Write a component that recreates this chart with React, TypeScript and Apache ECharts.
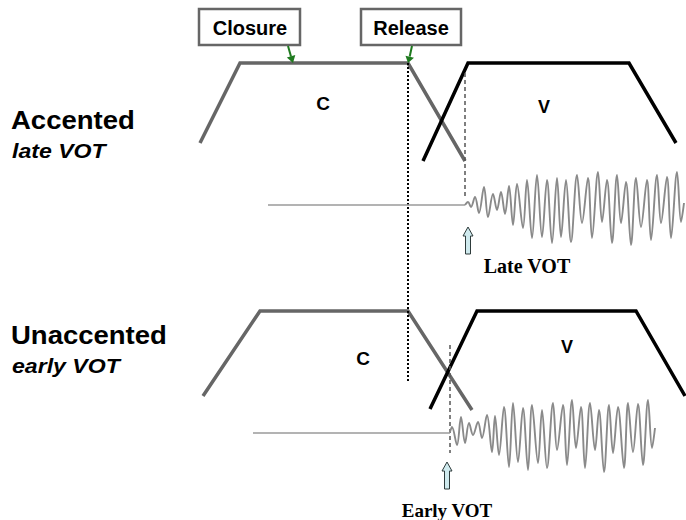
import React, { useEffect, useRef } from "react";
import * as echarts from "echarts";

// Trapezoid outlines (x, y in the diagram's 686x520 space)
const topC = [[200, 143], [240, 63], [408, 63], [465, 161]];
const topV = [[423, 161], [468, 63], [629, 63], [676, 143]];
const botC = [[203, 396], [260, 311], [408, 311], [472, 410]];
const botV = [[430, 409], [477, 311], [636, 311], [685, 396]];

// Marker lines
const releaseLine = [[408, 63], [408, 381]];
const topVotLine = [[465, 73], [465, 197]];
const botVotLine = [[450, 345], [450, 453]];

// Waveform baselines (silence before voicing)
const topBaseline = [[268, 205], [465, 205]];
const botBaseline = [[253, 433], [450, 433]];

// Voicing waveform extrema
const topWave = [
  [465, 205], [468, 202], [471, 207], [475, 197], [479, 213], [484, 187], [488, 217], [493, 194], [497, 210],
  [501, 192], [505, 214], [509, 186], [513, 225], [517, 184], [523, 228], [527, 180],
  [532, 238], [537, 175], [542, 237], [547, 180], [552, 243], [557, 178], [561, 237],
  [566, 180], [571, 242], [577, 175], [582, 223], [588, 178], [592, 238], [598, 172],
  [602, 222], [607, 180], [612, 243], [617, 175], [621, 223], [626, 182], [631, 245],
  [636, 178], [641, 227], [647, 180], [651, 240], [657, 175], [661, 223], [667, 177],
  [671, 238], [677, 172], [681, 222], [684, 203],
];
const botWave = [
  [450, 432], [452, 427], [457, 445], [461, 417], [465, 443], [469, 423], [473, 435],
  [478, 422], [482, 438], [487, 415], [492, 452], [495, 416], [499, 455], [504, 407],
  [509, 467], [513, 403], [518, 462], [523, 408], [528, 470], [532, 405], [538, 463],
  [542, 410], [547, 468], [553, 403], [557, 450], [563, 405], [567, 465], [572, 400],
  [576, 448], [581, 407], [585, 468], [590, 403], [595, 450], [599, 410], [604, 472],
  [609, 405], [613, 453], [618, 407], [624, 468], [628, 403], [633, 452], [638, 404],
  [643, 465], [648, 400], [652, 448], [655, 428],
];

const rowLabels = ["Accented", "Unaccented"];
const rowSubLabels = ["late VOT", "early VOT"];
const boxLabels = ["Closure", "Release"];
const segLabels = ["C", "V"];
const votLabels = ["Late VOT", "Early VOT"];

function lineSeries(data: number[][], color: string, width: number, type: any = "solid", smooth: any = false) {
  return {
    type: "line",
    data,
    symbol: "none",
    smooth,
    silent: true,
    lineStyle: { color, width, type, cap: "butt", join: "miter" },
    z: 2,
  };
}

function blueArrow(x: number, tip: number, bottom: number) {
  const hb = tip + 9;
  return {
    type: "polygon",
    shape: {
      points: [[x, tip], [x + 5, hb], [x + 2.5, hb], [x + 2.5, bottom], [x - 2.5, bottom], [x - 2.5, hb], [x - 5, hb]],
    },
    style: { fill: "#cfeaee", stroke: "#2e3b3b", lineWidth: 1 },
    z: 10,
  };
}

export default function App() {
  const ref = useRef<HTMLDivElement>(null);
  useEffect(() => {
    document.body.style.margin = "0";
    const chart = echarts.init(ref.current!, null, { renderer: "svg" });
    const sans = "'Liberation Sans', Arial, sans-serif";
    const serif = "'Liberation Serif', 'Times New Roman', serif";
    const green = "#1f7a1f";
    chart.setOption({
      animation: false,
      backgroundColor: "#ffffff",
      grid: { left: 0, right: 0, top: 0, bottom: 0 },
      xAxis: { type: "value", min: 0, max: 686, show: false },
      yAxis: { type: "value", min: 0, max: 520, inverse: true, show: false },
      series: [
        lineSeries(topC, "#666666", 3.5),
        lineSeries(topV, "#000000", 3.5),
        lineSeries(botC, "#666666", 3.5),
        lineSeries(botV, "#000000", 3.5),
        lineSeries(releaseLine, "#000000", 2, [2, 2]),
        lineSeries(topVotLine, "#555555", 1.5, [4, 3]),
        lineSeries(botVotLine, "#555555", 1.5, [4, 3]),
        lineSeries(topBaseline, "#9a9a9a", 1.5),
        lineSeries(botBaseline, "#9a9a9a", 1.5),
        lineSeries(topWave, "#8a8a8a", 1.9, "solid", 0.35),
        lineSeries(botWave, "#8a8a8a", 1.9, "solid", 0.35),
      ],
      graphic: [
        // Boxes
        { type: "rect", shape: { x: 199, y: 9, width: 101, height: 36 }, style: { fill: "#fff", stroke: "#666", lineWidth: 2.5 }, z: 10 },
        { type: "rect", shape: { x: 361, y: 9, width: 100, height: 36 }, style: { fill: "#fff", stroke: "#666", lineWidth: 2.5 }, z: 10 },
        { type: "text", x: 250, y: 28, style: { text: boxLabels[0], font: `bold 20px ${sans}`, fill: "#000", align: "center", verticalAlign: "middle" }, z: 11 },
        { type: "text", x: 411, y: 28, style: { text: boxLabels[1], font: `bold 20px ${sans}`, fill: "#000", align: "center", verticalAlign: "middle" }, z: 11 },
        // Green arrows
        { type: "line", shape: { x1: 288, y1: 46, x2: 291, y2: 56.5 }, style: { stroke: green, lineWidth: 2 }, z: 10 },
        { type: "polygon", shape: { points: [[286.8, 57.5], [295.3, 55], [293, 63]] }, style: { fill: green }, z: 10 },
        { type: "line", shape: { x1: 412, y1: 46, x2: 409.7, y2: 56.5 }, style: { stroke: green, lineWidth: 2 }, z: 10 },
        { type: "polygon", shape: { points: [[405.5, 55.7], [414, 57.7], [408, 63]] }, style: { fill: green }, z: 10 },
        // Row labels
        { type: "text", x: 11, y: 120, scaleX: 1.1, style: { text: rowLabels[0], font: `bold 25px ${sans}`, fill: "#000", verticalAlign: "middle" } },
        { type: "text", x: 12, y: 151, scaleX: 1.1, style: { text: rowSubLabels[0], font: `italic bold 21px ${sans}`, fill: "#000", verticalAlign: "middle" } },
        { type: "text", x: 11, y: 335, scaleX: 1.1, style: { text: rowLabels[1], font: `bold 25px ${sans}`, fill: "#000", verticalAlign: "middle" } },
        { type: "text", x: 12, y: 366, scaleX: 1.1, style: { text: rowSubLabels[1], font: `italic bold 21px ${sans}`, fill: "#000", verticalAlign: "middle" } },
        // Segment labels
        { type: "text", x: 323, y: 103, style: { text: segLabels[0], font: `bold 19px ${sans}`, fill: "#000", align: "center", verticalAlign: "middle" } },
        { type: "text", x: 544, y: 107, style: { text: segLabels[1], font: `bold 18px ${sans}`, fill: "#000", align: "center", verticalAlign: "middle" } },
        { type: "text", x: 363, y: 358, style: { text: segLabels[0], font: `bold 19px ${sans}`, fill: "#000", align: "center", verticalAlign: "middle" } },
        { type: "text", x: 567, y: 347, style: { text: segLabels[1], font: `bold 18px ${sans}`, fill: "#000", align: "center", verticalAlign: "middle" } },
        // VOT arrows and labels
        blueArrow(468, 227, 254),
        blueArrow(447, 462, 489),
        { type: "text", x: 527, y: 266, style: { text: votLabels[0], font: `bold 20px ${serif}`, fill: "#000", align: "center", verticalAlign: "middle" } },
        { type: "text", x: 447, y: 510, style: { text: votLabels[1], font: `bold 19px ${serif}`, fill: "#000", align: "center", verticalAlign: "middle" } },
      ],
    });
    return () => chart.dispose();
  }, []);
  return <div ref={ref} style={{ width: 686, height: 520 }} />;
}
